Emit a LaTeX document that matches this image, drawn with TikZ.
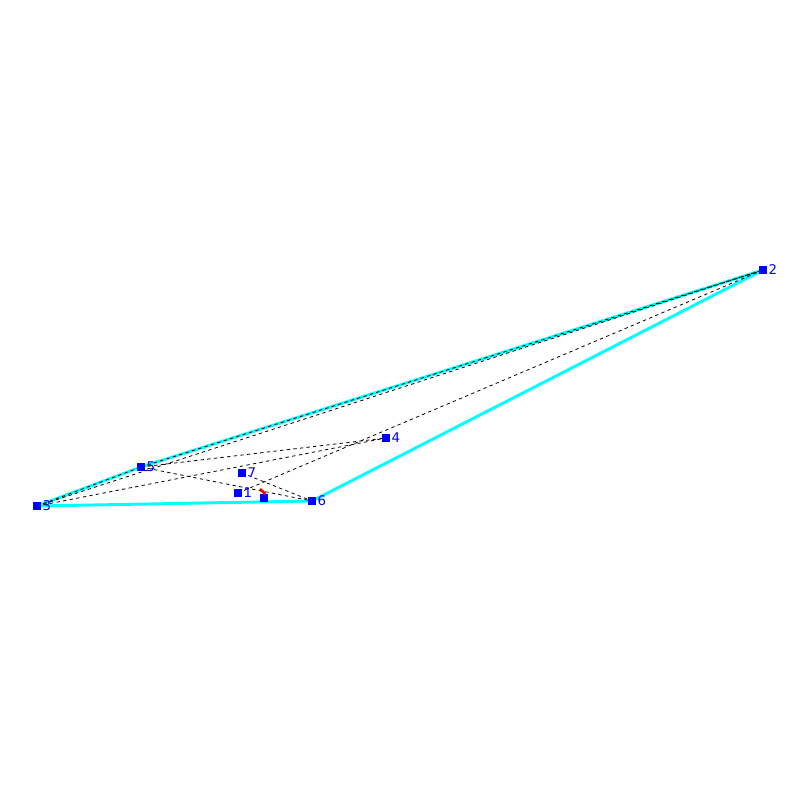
\documentclass[tikz,border=0pt]{standalone}
\usepackage{fontspec}
\setsansfont{DejaVu Sans}
\usetikzlibrary{backgrounds}
\definecolor{hullc}{RGB}{0,255,255}
\definecolor{ptc}{RGB}{0,0,255}
\definecolor{redc}{RGB}{255,0,0}
\begin{document}
\begin{tikzpicture}[x=0.75pt,y=-0.75pt,
  pt/.style={fill=ptc,minimum size=6pt,inner sep=0pt,outer sep=0pt},
  lbl/.style={text=ptc,font=\sffamily\fontsize{10}{10}\selectfont,anchor=west,inner sep=1pt},
  hull/.style={draw=hullc,line width=2.2pt},
  dsh/.style={draw=black,line width=0.6pt,dash pattern=on 2.5pt off 2.5pt}]
\useasboundingbox (0,0) rectangle (800,800);
\node[pt] (n3) at (37,506) {};
\node[pt] (n5) at (141,467) {};
\node[pt] (n7) at (242,473) {};
\node[pt] (n1) at (238,493) {};
\node[pt] (n0) at (264,498) {};
\node[pt] (n6) at (312,501) {};
\node[pt] (n4) at (386,438) {};
\node[pt] (n2) at (763,270) {};
\begin{scope}[on background layer]
% hull
\draw[hull] (n3.center) -- (n6.center) -- (n2.center) -- (n5.center) -- (n3.center);
% dashed
\draw[dsh] (n3.center) -- (n5.center);
\draw[dsh] (n3.center) -- (n2.center);
\draw[dsh] (n3.center) -- (n4.center);
\draw[dsh] (n5.center) -- (n4.center);
\draw[dsh] (n5.center) -- (n2.center);
\draw[dsh] (n5.center) -- (n6.center);
\draw[dsh] (n7.center) -- (n6.center);
\draw[dsh] (n1.center) -- (n2.center);
\end{scope}
\coordinate (r0) at (260,489);
\draw[redc,line width=2pt] (r0) -- ([xshift=1pt]n0.north);
% labels
\node[lbl] at (n3.east) {3};
\node[lbl] at (n5.east) {5};
\node[lbl] at (n7.east) {7};
\node[lbl] at (n1.east) {1};
\node[lbl] at (n6.east) {6};
\node[lbl] at (n4.east) {4};
\node[lbl] at (n2.east) {2};
\end{tikzpicture}
\end{document}
